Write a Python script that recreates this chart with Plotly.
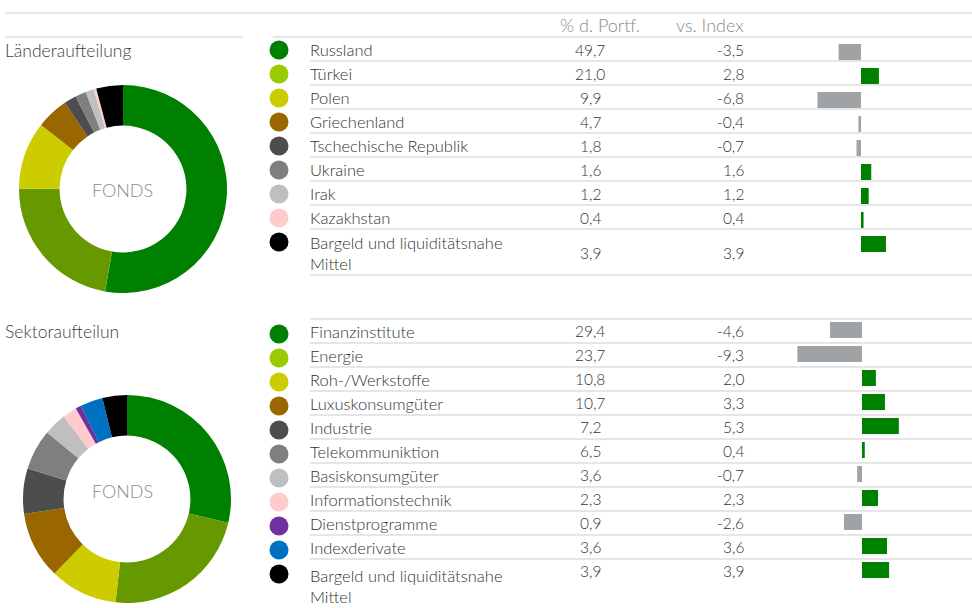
import plotly.graph_objects as go

W, H = 972, 608

# ---------------- data ----------------
laender = ["Russland", "Türkei", "Polen", "Griechenland", "Tschechische Republik",
           "Ukraine", "Irak", "Kazakhstan", "Bargeld und liquiditätsnahe<br>Mittel"]
laender_portf = [49.7, 21.0, 9.9, 4.7, 1.8, 1.6, 1.2, 0.4, 3.9]
laender_vs = [-3.5, 2.8, -6.8, -0.4, -0.7, 1.6, 1.2, 0.4, 3.9]
laender_dot_colors = ["#008000", "#99cc00", "#cccc00", "#996600", "#4d4d4d",
                      "#7f7f7f", "#bfbfbf", "#ffcccc", "#000000"]
laender_slice_colors = ["#008000", "#669900", "#cccc00", "#996600", "#4d4d4d",
                        "#7f7f7f", "#bfbfbf", "#ffcccc", "#000000"]

sektoren = ["Finanzinstitute", "Energie", "Roh-/Werkstoffe", "Luxuskonsumgüter", "Industrie",
            "Telekommuniktion", "Basiskonsumgüter", "Informationstechnik", "Dienstprogramme",
            "Indexderivate", "Bargeld und liquiditätsnahe<br>Mittel"]
sektor_portf = [29.4, 23.7, 10.8, 10.7, 7.2, 6.5, 3.6, 2.3, 0.9, 3.6, 3.9]
sektor_vs = [-4.6, -9.3, 2.0, 3.3, 5.3, 0.4, -0.7, 2.3, -2.6, 3.6, 3.9]
sektor_dot_colors = ["#008000", "#99cc00", "#cccc00", "#996600", "#4d4d4d", "#7f7f7f",
                     "#bfbfbf", "#ffcccc", "#7030a0", "#0070c0", "#000000"]
sektor_slice_colors = ["#008000", "#669900", "#cccc00", "#996600", "#4d4d4d", "#7f7f7f",
                       "#bfbfbf", "#ffcccc", "#7030a0", "#0070c0", "#000000"]

header_portf = "% d. Portf."
header_vs = "vs. Index"
title_laender = "Länderaufteilung"
title_sektor = "Sektoraufteilun"
center_label = "FONDS"


def fmt(v):
    return f"{v:.1f}".replace(".", ",")


# ---------------- layout geometry (pixels) ----------------
ROW = 24
L_TOP = 37
S_TOP = 319
L_heights = [ROW] * (len(laender) - 1) + [46]
S_heights = [ROW] * (len(sektoren) - 1) + [52]


def tops(start, heights):
    out, y = [], start
    for h in heights:
        out.append(y)
        y += h
    return out, y


L_tops, L_end = tops(L_TOP, L_heights)
S_tops, S_end = tops(S_TOP, S_heights)

DOT_X = 279
LABEL_X = 308
PORTF_X = 590
VS_X = 746
GREEN = "#008000"
GREY = "#a0a3a6"
LINE = "#dedede"
TXT = "#333333"
FONT = "Lato"

fig = go.Figure()

# donuts
fig.add_trace(go.Pie(values=laender_portf, labels=[l.replace("<br>", " ") for l in laender],
                     marker=dict(colors=laender_slice_colors, line=dict(width=0)),
                     hole=0.61, sort=False, direction="clockwise", rotation=0,
                     textinfo="none", showlegend=False,
                     domain=dict(x=[19 / W, 227 / W], y=[1 - 293 / H, 1 - 85 / H])))
fig.add_trace(go.Pie(values=sektor_portf, labels=[s.replace("<br>", " ") for s in sektoren],
                     marker=dict(colors=sektor_slice_colors, line=dict(width=0)),
                     hole=0.61, sort=False, direction="clockwise", rotation=0,
                     textinfo="none", showlegend=False,
                     domain=dict(x=[23 / W, 231 / W], y=[1 - 603 / H, 1 - 395 / H])))

# legend dots
fig.add_trace(go.Scatter(x=[DOT_X] * len(laender), y=[t + 13 for t in L_tops], mode="markers",
                         marker=dict(size=19, color=laender_dot_colors, line=dict(width=0)),
                         showlegend=False, hoverinfo="skip", xaxis="x", yaxis="y"))
fig.add_trace(go.Scatter(x=[DOT_X] * len(sektoren), y=[t + 15 for t in S_tops], mode="markers",
                         marker=dict(size=19, color=sektor_dot_colors, line=dict(width=0)),
                         showlegend=False, hoverinfo="skip", xaxis="x", yaxis="y"))

# bars
fig.add_trace(go.Bar(x=laender_vs, y=[t + 15 for t in L_tops], orientation="h", width=16,
                     marker=dict(color=[GREEN if v >= 0 else GREY for v in laender_vs], line=dict(width=0)),
                     showlegend=False, xaxis="x2", yaxis="y"))
fig.add_trace(go.Bar(x=sektor_vs, y=[t + 11 for t in S_tops], orientation="h", width=16,
                     marker=dict(color=[GREEN if v >= 0 else GREY for v in sektor_vs], line=dict(width=0)),
                     showlegend=False, xaxis="x3", yaxis="y"))

ann = []


def txt(x, y, s, size=16.5, color=TXT, xanchor="left"):
    ann.append(dict(x=x, y=y, xref="x", yref="y", text=s, showarrow=False,
                    xanchor=xanchor, yanchor="middle", align=xanchor if xanchor != "center" else "center",
                    font=dict(family=FONT, size=size, color=color, weight=300)))


# headers
txt(642, 25, header_portf, size=18, color="#8a8a8a", xanchor="right")
txt(VS_X, 25, header_vs, size=18, color="#8a8a8a", xanchor="right")
# titles
txt(3, 50, title_laender, size=17.5, color="#404040")
txt(3, 331, title_sektor, size=17.5, color="#404040")
# donut centers
txt(122, 190, center_label, size=18, color="#8c8c8c", xanchor="center")
txt(122, 491, center_label, size=18, color="#8c8c8c", xanchor="center")

# Länder table
for name, p, v, t, h in zip(laender, laender_portf, laender_vs, L_tops, L_heights):
    c = t + h / 2 + 1
    txt(LABEL_X, c, name)
    txt(PORTF_X, c, fmt(p), size=15.5, xanchor="center")
    txt(VS_X, c, fmt(v), size=15.5, xanchor="right")

# Sektor table
for name, p, v, t, h in zip(sektoren, sektor_portf, sektor_vs, S_tops, S_heights):
    txt(LABEL_X, t + h / 2 + 1, name)
    txt(PORTF_X, t + 12, fmt(p), size=15.5, xanchor="center")
    txt(VS_X, t + 12, fmt(v), size=15.5, xanchor="right")

# rule lines
shapes = []


def hline(x0, x1, y):
    shapes.append(dict(type="line", xref="x", yref="y", x0=x0, x1=x1, y0=y, y1=y,
                       line=dict(color=LINE, width=1.5), layer="below"))


hline(5, W, 13)
hline(5, 243, 37)
hline(273, W, L_TOP)
for t, h in zip(L_tops, L_heights):
    hline(310, W, t + h)
hline(310, W, S_TOP)
for t, h in zip(S_tops[:-1], S_heights[:-1]):
    hline(310, W, t + h)

fig.update_layout(
    width=W, height=H, margin=dict(l=0, r=0, t=0, b=0),
    paper_bgcolor="white", plot_bgcolor="rgba(0,0,0,0)",
    showlegend=False, annotations=ann, shapes=shapes,
    font=dict(family=FONT),
    xaxis=dict(domain=[0, 1], range=[0, W], visible=False, fixedrange=True),
    yaxis=dict(domain=[0, 1], range=[H, 0], visible=False, fixedrange=True),
    xaxis2=dict(domain=[780 / W, 1], range=[(780 - 861) / 6.4, (972 - 861) / 6.4],
                anchor="y", visible=False, fixedrange=True),
    xaxis3=dict(domain=[780 / W, 1], range=[(780 - 862) / 6.95, (972 - 862) / 6.95],
                anchor="y", visible=False, fixedrange=True),
)

fig.write_html("out.html", config={"displayModeBar": False},
               post_script="document.body.style.margin='0px';document.body.style.overflow='hidden';")
